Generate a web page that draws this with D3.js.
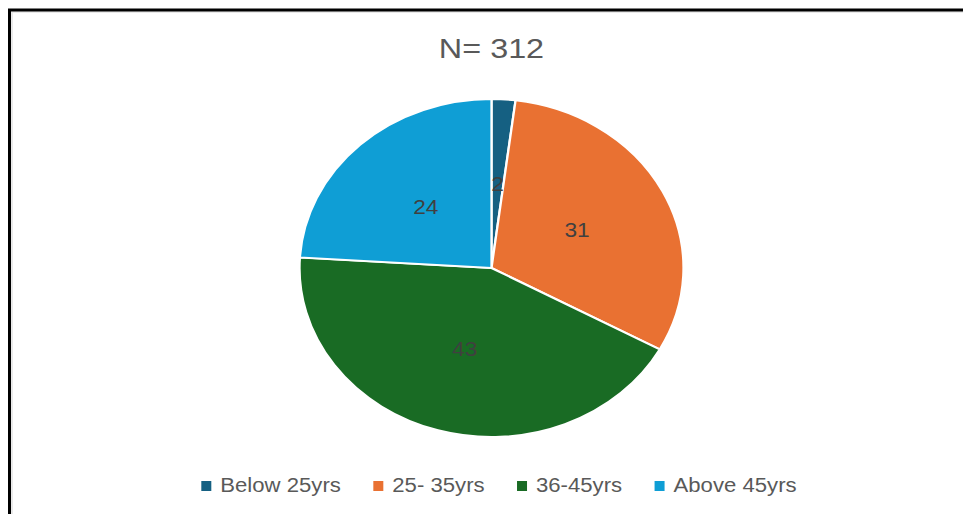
<!DOCTYPE html>
<html>
<head>
<meta charset="utf-8">
<script src="https://cdn.jsdelivr.net/npm/d3@7"></script>
<style>
  body { margin: 0; background: #fff; }
  text { font-family: "Liberation Sans", Arial, sans-serif; }
</style>
</head>
<body>
<div id="pie_chart"></div>
<script>

var title = "N= 312";
var categories = ["Below 25yrs", "25- 35yrs", "36-45yrs", "Above 45yrs"];
var values = [2, 31, 43, 24];
var colors = ["#156082", "#e97132", "#196b24", "#0f9ed5"];

plot_pie_chart(values, "#pie_chart");

function plot_pie_chart (dataArray, htmlObjectId) {
    var width = 963;
    var height = 514;
    var sx = 1.136;   // the picture is a bit stretched sideways
    var radius = 169;
    var cx = 491.5, cy = 268;

    var canvas = d3.select(htmlObjectId)
                    .append("svg")
                    .attr("width", width)
                    .attr("height", height);

    // frame, cut off at right and bottom
    canvas.append("rect")
        .attr("x", 12).attr("y", 12)
        .attr("width", width).attr("height", height)
        .attr("fill", "none")
        .attr("stroke", "#e3e3e3")
        .attr("stroke-width", 1.5);
    canvas.append("rect")
        .attr("x", 9.5).attr("y", 10)
        .attr("width", width + 20).attr("height", height + 20)
        .attr("fill", "none")
        .attr("stroke", "#000")
        .attr("stroke-width", 3);

    canvas.append("text")
        .attr("transform", "translate(" + cx + ",57.5) scale(" + sx + ",1)")
        .attr("text-anchor", "middle")
        .attr("font-size", 28.5)
        .attr("fill", "#595959")
        .text(title);

    var pie = d3.pie().sort(null).value(function(d) { return d; });
    var arc = d3.arc().innerRadius(0).outerRadius(radius);
    var slices = pie(dataArray);

    var g = canvas.append("g")
        .attr("transform", "translate(" + cx + "," + cy + ") scale(" + sx + ",1)");

    g.selectAll("path")
        .data(slices)
        .enter()
            .append("path")
            .attr("d", arc)
            .attr("fill", function(d, i) { return colors[i]; })
            .attr("stroke", "#fff")
            .attr("stroke-width", 2);

    g.selectAll("text")
        .data(slices)
        .enter()
            .append("text")
            .attr("x", function(d) { return arc.centroid(d)[0]; })
            .attr("y", function(d) { return arc.centroid(d)[1]; })
            .attr("dy", "0.36em")
            .attr("text-anchor", "middle")
            .attr("font-size", 20)
            .attr("fill", "#404040")
            .text(function(d) { return d.data; });

    // legend, laid out from measured text widths
    var legend = canvas.append("g");
    var items = legend.selectAll("g")
        .data(categories)
        .enter()
            .append("g");
    items.append("rect")
        .attr("width", 8.8).attr("height", 10)
        .attr("y", -11)
        .attr("fill", function(d, i) { return colors[i]; });
    items.append("text")
        .attr("x", 16.7)
        .attr("font-size", 19.5)
        .attr("fill", "#595959")
        .text(function(d) { return d; });

    var pos = 0;
    items.each(function() {
        var w = d3.select(this).select("text").node().getComputedTextLength();
        d3.select(this).attr("transform", "translate(" + pos + ",0)");
        pos += 16.7 + w + 28.5;
    });
    var total = pos - 28.5;
    legend.attr("transform", "translate(499,492) scale(" + sx + ",1) translate(" + (-total / 2) + ",0)");
}
</script>
</body>
</html>
